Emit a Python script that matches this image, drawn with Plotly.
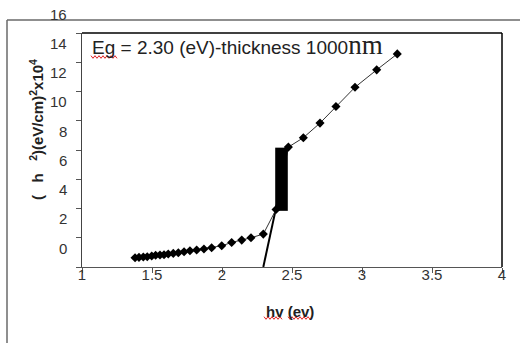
import plotly.graph_objects as go

# ---- data ----
hv = [1.379, 1.407, 1.438, 1.466, 1.498, 1.526, 1.557, 1.586, 1.616, 1.652,
      1.688, 1.729, 1.771, 1.819, 1.871, 1.926, 1.998, 2.069, 2.141, 2.207,
      2.295, 2.386, 2.474, 2.581, 2.700, 2.814, 2.950, 3.105, 3.252]
ahv2 = [0.63, 0.66, 0.68, 0.70, 0.75, 0.80, 0.82, 0.84, 0.89, 0.93,
        0.97, 1.04, 1.11, 1.16, 1.23, 1.32, 1.45, 1.68, 1.84, 2.00,
        2.25, 3.93, 8.20, 8.84, 9.84, 10.97, 12.29, 13.48, 14.57]
fit_x = [2.295, 2.392]
fit_y = [0.0, 4.3]
block_x = [2.38, 2.47]
block_y = [3.84, 8.16]
x_ticks = [1, 1.5, 2, 2.5, 3, 3.5, 4]
x_ticktext = ["1", "1.5", "2", "2.5", "3", "3.5", "4"]
y_ticks = [0, 2, 4, 6, 8, 10, 12, 14, 16]

W, H = 520, 343
L, R, T, B = 82, 18, 33, 76
PW, PH = W - L - R, H - T - B


def px(xp):
    return (xp - L) / PW


def py(yp):
    return (H - B - yp) / PH


def wavy(x0, x1, y, amp=1.3, step=2.0):
    pts = []
    x = x0
    k = 0
    while x <= x1:
        pts.append((px(x), py(y + (amp if k % 2 else -amp))))
        x += step
        k += 1
    return "M " + " L ".join(f"{a:.5f},{b:.5f}" for a, b in pts)


fig = go.Figure()
fig.add_trace(go.Scatter(x=fit_x, y=fit_y, mode="lines",
                         line=dict(color="black", width=2), showlegend=False))
fig.add_trace(go.Scatter(x=hv, y=ahv2, mode="lines+markers",
                         line=dict(color="#333333", width=1),
                         marker=dict(symbol="diamond", size=7, color="black"),
                         showlegend=False))

shapes = [
    dict(type="rect", xref="x", yref="y", x0=block_x[0], x1=block_x[1],
         y0=block_y[0], y1=block_y[1], fillcolor="black", line=dict(width=0)),
    # top and right frame of the plot area
    dict(type="line", xref="paper", yref="paper", x0=0, x1=1, y0=1, y1=1,
         line=dict(color="black", width=1.3)),
    dict(type="line", xref="paper", yref="paper", x0=1, x1=1, y0=0, y1=1,
         line=dict(color="black", width=1.5)),
    # outer chart frame
    dict(type="line", xref="paper", yref="paper", x0=px(7), x1=px(530),
         y0=py(20), y1=py(20), line=dict(color="#6a6a6a", width=1.5)),
    dict(type="line", xref="paper", yref="paper", x0=px(7), x1=px(7),
         y0=py(20), y1=py(350), line=dict(color="#6a6a6a", width=1.5)),
    # spell-check squiggles
    dict(type="path", xref="paper", yref="paper", path=wavy(91, 117, 57),
         line=dict(color="#e02020", width=1)),
    dict(type="path", xref="paper", yref="paper", path=wavy(264, 283, 318),
         line=dict(color="#e02020", width=1)),
    dict(type="path", xref="paper", yref="paper", path=wavy(288, 313, 318),
         line=dict(color="#e02020", width=1)),
]

annotations = []
for v in y_ticks:
    annotations.append(dict(x=0, xref="paper", y=v, yref="y", text=str(v),
                            xanchor="right", yanchor="middle", xshift=-13,
                            yshift=19, showarrow=False,
                            font=dict(family="Liberation Sans, Arial", size=15,
                                      color="#333333")))
annotations.append(dict(
    x=px(90), y=py(45), xref="paper", yref="paper", xanchor="left",
    yanchor="middle", showarrow=False,
    text="Eg = 2.30 (eV)-thickness 1000<span style='font-family:Liberation Serif, Times New Roman; font-size:27px'>nm</span>",
    font=dict(family="Liberation Sans, Arial", size=19, color="#222222")))
annotations.append(dict(
    x=px(36), y=py(130), xref="paper", yref="paper", xanchor="center",
    yanchor="middle", textangle=-90, showarrow=False,
    text="<b>(\u00a0\u00a0 h \u00a0\u00a0<sup>2</sup>)(eV/cm)<sup>2</sup>x10<sup>4</sup></b>",
    font=dict(family="Liberation Sans, Arial", size=15, color="#222222")))
annotations.append(dict(
    x=px(290), y=py(311), xref="paper", yref="paper", xanchor="center",
    yanchor="middle", showarrow=False, text="<b>hv (ev)</b>",
    font=dict(family="Liberation Sans, Arial", size=15, color="#222222")))

fig.update_layout(
    width=W, height=H, margin=dict(l=L, r=R, t=T, b=B),
    paper_bgcolor="white", plot_bgcolor="white",
    shapes=shapes, annotations=annotations,
    xaxis=dict(range=[1, 4], tickvals=x_ticks, ticktext=x_ticktext,
               showgrid=False, zeroline=False, showline=True,
               linecolor="#555555", linewidth=1.3, ticks="outside",
               ticklen=5, tickcolor="#555555", ticklabelstandoff=-11,
               tickfont=dict(family="Liberation Sans, Arial", size=15,
                             color="#333333")),
    yaxis=dict(range=[0, 16], tickvals=y_ticks, showticklabels=False,
               showgrid=False, zeroline=False, showline=True,
               linecolor="#444444", linewidth=1.3, ticks="outside",
               ticklen=5, tickcolor="#555555"),
)

fig.write_html("out.html")
